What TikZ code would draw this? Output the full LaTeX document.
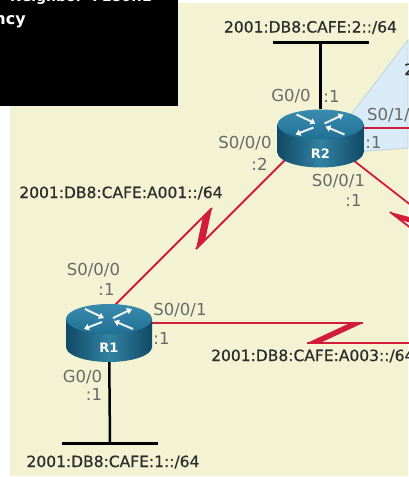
\documentclass[tikz,border=0pt]{standalone}
\usepackage{fontspec}
\setmainfont{DejaVu Sans}
\newfontfamily\netfont{DejaVu Sans}[FakeBold=0.6]
\usepackage{tikz}
\usetikzlibrary{positioning}
\usetikzlibrary{arrows.meta}
\usetikzlibrary{calc}
\definecolor{panelyellow}{RGB}{243,243,212}
\definecolor{areablue}{RGB}{216,235,246}
\definecolor{areaedge}{RGB}{190,210,220}
\definecolor{serialred}{RGB}{210,28,60}
\definecolor{ifgray}{RGB}{105,105,105}
\definecolor{netgray}{RGB}{45,45,45}
\definecolor{routertop}{RGB}{32,112,148}
\definecolor{routertoplight}{RGB}{58,140,175}
\definecolor{routerside}{RGB}{16,74,102}
\definecolor{routerglow}{RGB}{50,130,162}
\pgfdeclarelayer{panel}
\pgfdeclarelayer{links}
\pgfsetlayers{panel,links,main}
\tikzset{router node/.style={minimum width=86pt,minimum height=58pt,inner sep=0pt,draw,draw opacity=0,
    path picture={
      \coordinate (rc) at (path picture bounding box.center);
      \coordinate (tc) at ($(rc)+(0,-14)$);
      \shade[left color=routerside,right color=routerside,middle color=routerglow] ($(rc)+(-43,-14)$) rectangle ($(rc)+(43,14)$);
      \shade[left color=routerside,right color=routerside,middle color=routerglow] ($(rc)+(0,14)$) ellipse [x radius=43,y radius=15];
      \shade[top color=routertoplight,bottom color=routertop] (tc) ellipse [x radius=43,y radius=15];
      \draw[router arrow] ($(tc)+(-24,-10)$) -- ($(tc)+(-5,-1)$);
      \draw[router arrow] ($(tc)+(-7,3)$) -- ($(tc)+(-25,10)$);
      \draw[router arrow] ($(tc)+(4,-1)$) -- ($(tc)+(23,-10)$);
      \draw[router arrow] ($(tc)+(24,10)$) -- ($(tc)+(5,2)$);
    }},
  router arrow/.style={draw=white,draw opacity=0.9,line width=2pt,-{Triangle[length=5pt,width=6.5pt]}},
  router name/.style={text=white,font=\bfseries\fontsize{13}{13}\selectfont,inner sep=0pt},
  port label/.style={text=ifgray,font=\fontsize{16.5}{18}\selectfont,inner sep=0pt},
  net label/.style={text=netgray,font=\netfont\fontsize{15.5}{18}\selectfont,inner sep=0pt},
  serial/.style={draw=serialred,line width=1.8pt},
  serial bolt/.style={fill=serialred},
  lan/.style={draw=black,line width=2.5pt},
  lan bar/.style={draw=black,line width=3pt},
}

\begin{document}
\begin{tikzpicture}[x=1pt,y=-1pt]
	\useasboundingbox (0,0) rectangle (408,477);

	\node[router node] (r2) at (320.5,138.5) {};
	\node[router node] (r1) at (109,333) {};
	\node[router name] (r2 tag) at ($(r2)+(0,15)$) {R2};
	\node[router name] (r1 tag) at ($(r1)+(0,15)$) {R1};

	% background, overlay box and the shaded serial area
	\begin{pgfonlayer}{panel}
		\fill[white] (0,0) rectangle (408,477);
		\fill[panelyellow] (10,3) rectangle (408,476);
		\filldraw[fill=areablue,draw=areaedge,line width=0.8pt] ($(r2)+(0,16)$) -- (408,40) -- (408,148) -- cycle;
		\fill[black] (0,0) rectangle (178,106);
		\node[text=white,font=\bfseries\fontsize{14}{14}\selectfont,anchor=base west,inner sep=0pt] (box top) at (10,1) {Neighbor\ \ FE80::2};
		\node[text=white,font=\bfseries\fontsize{16}{16}\selectfont,anchor=base east,inner sep=0pt] (box tail) at (26,24) {ncy};
	\end{pgfonlayer}

	\coordinate (lan2) at (320.5,42);
	\coordinate (lan1) at (110,443);
	\coordinate (a1 up) at (212,208);
	\coordinate (a1 dn) at (196,249);
	\coordinate (a3 hi) at (363,323);
	\coordinate (a3 lo) at (307,343);
	\coordinate (a3 far) at (440,343);
	\coordinate (a2 far) at (440,128);
	\coordinate (a4 far) at (445,231.7);
	\coordinate (a4 lo) at (390,212);

	\begin{pgfonlayer}{links}
		% ethernet segments
		\path[lan] (r2) -- (lan2);
		\path[lan bar] ([xshift=-48pt]lan2) -- ([xshift=48pt]lan2);
		\path[lan] (r1) -- (lan1);
		\path[lan bar] ([xshift=-48pt]lan1) -- ([xshift=48pt]lan1);
		% serial links
		\path[serial] ($(r2)+(-20,6)$) -- (a1 dn);
		\fill[serial bolt] (a1 dn) -- ++(9.2,-9.2) -- (a1 up) -- ++(-9.2,9.2) -- cycle;
		\path[serial] (a1 up) -- ($(r1)+(3,-25)$);
		\path[serial] (r1.center |- a3 hi) -- (a3 hi);
		\fill[serial bolt] (a3 hi) -- ++(-13,0) -- (a3 lo) -- ++(13,0) -- cycle;
		\path[serial] (a3 lo) -- (a3 far);
		\path[serial] (r2.center |- a2 far) -- (a2 far);
		\path[serial] ($(r2)+(10,4)$) -- (a4 far);
		\fill[serial bolt] (a4 far) -- ++(-10.3,-8) -- (a4 lo) -- ++(10.3,8) -- cycle;
		\path[serial] (a4 lo) -- ++(60,46.4);
	\end{pgfonlayer}

	% network addresses
	\node[net label] (net2) at (310.5,27.5) {2001:DB8:CAFE:2::/64};
	\node[net label] (net1) at (113,462) {2001:DB8:CAFE:1::/64};
	\node[net label] (neta1) at (121,193) {2001:DB8:CAFE:A001::/64};
	\node[net label,anchor=west] (neta3) at (211,356) {2001:DB8:CAFE:A003::/64};
	\node[net label,anchor=west] (neta2) at (404,70) {2001:DB8:CAFE:A002::/64};

	% interfaces of R2
	\node[port label] (r2 g) at (291,96) {G0/0};
	\node[port label] (r2 g ip) at (331.5,96) {:1};
	\node[port label,anchor=west] (r2 s10) at (367,115) {S0/1/0};
	\node[port label] (r2 s10 ip) at (373.5,142) {:1};
	\node[port label] (r2 s00) at (245,143) {S0/0/0};
	\node[port label] (r2 s00 ip) at (259.5,164) {:2};
	\node[port label] (r2 s01) at (338.5,181) {S0/0/1};
	\node[port label] (r2 s01 ip) at (353.5,200) {:1};

	% interfaces of R1
	\node[port label] (r1 s00) at (93.5,270) {S0/0/0};
	\node[port label] (r1 s00 ip) at (106.5,289) {:1};
	\node[port label] (r1 s01) at (180,310) {S0/0/1};
	\node[port label] (r1 s01 ip) at (161.5,338) {:1};
	\node[port label] (r1 g) at (82.5,377) {G0/0};
	\node[port label] (r1 g ip) at (94,394) {:1};
\end{tikzpicture}
\end{document}
